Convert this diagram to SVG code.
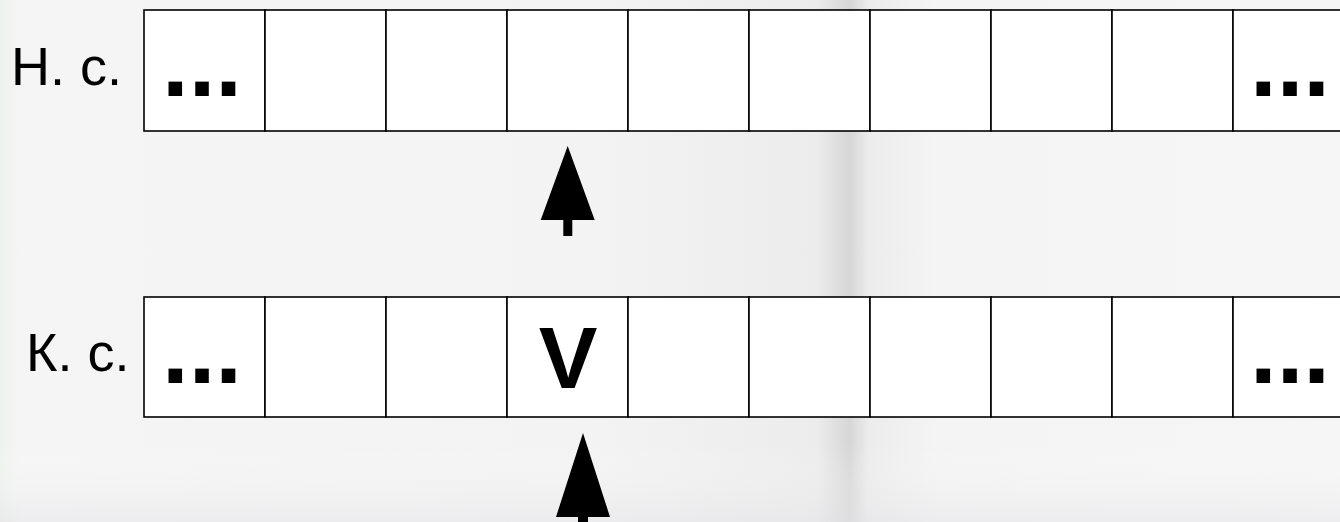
<svg xmlns="http://www.w3.org/2000/svg" width="1340" height="522" viewBox="0 0 1340 522">
  <defs>
    <linearGradient id="bg" x1="0" y1="0" x2="1340" y2="0" gradientUnits="userSpaceOnUse">
      <stop offset="0" stop-color="#eef2ee"/>
      <stop offset="0.015" stop-color="#f5f5f5"/>
      <stop offset="0.45" stop-color="#f3f3f3"/>
      <stop offset="0.61" stop-color="#ececec"/>
      <stop offset="0.634" stop-color="#d6d6d6"/>
      <stop offset="0.648" stop-color="#ececec"/>
      <stop offset="0.7" stop-color="#f4f4f4"/>
      <stop offset="1" stop-color="#f6f6f6"/>
    </linearGradient>
    <linearGradient id="bgv" x1="0" y1="0" x2="0" y2="522" gradientUnits="userSpaceOnUse">
      <stop offset="0.85" stop-color="#ffffff" stop-opacity="0"/>
      <stop offset="1" stop-color="#e4e2e6" stop-opacity="0.5"/>
    </linearGradient>
    <style>
      .cell { fill: #ffffff; stroke: #000000; stroke-width: 1.6; }
      .lbl { font-family: "Liberation Sans", Arial, sans-serif; font-size: 54px; fill: #000000; }
      .dots { font-family: "Liberation Sans", Arial, sans-serif; font-size: 96px; font-weight: bold; fill: #000000; }
      .big { font-family: "Liberation Sans", Arial, sans-serif; font-size: 88px; font-weight: bold; fill: #000000; }
      .arrow { fill: #000000; }
    </style>
  </defs>
  <rect x="0" y="0" width="1340" height="522" fill="url(#bg)"/>
  <rect x="0" y="0" width="1340" height="522" fill="url(#bgv)"/>

  <g id="row-top">
    <text class="lbl" x="11" y="85">Н. с.</text>
    <rect class="cell" x="144" y="10" width="121" height="121"/>
    <rect class="cell" x="265" y="10" width="121" height="121"/>
    <rect class="cell" x="386" y="10" width="121" height="121"/>
    <rect class="cell" x="507" y="10" width="121" height="121"/>
    <rect class="cell" x="628" y="10" width="121" height="121"/>
    <rect class="cell" x="749" y="10" width="121" height="121"/>
    <rect class="cell" x="870" y="10" width="121" height="121"/>
    <rect class="cell" x="991" y="10" width="121" height="121"/>
    <rect class="cell" x="1112" y="10" width="121" height="121"/>
    <rect class="cell" x="1233" y="10" width="121" height="121"/>
    <text class="dots" x="162" y="96">...</text>
    <text class="dots" x="1250" y="96">...</text>
  </g>

  <g id="row-bottom">
    <text class="lbl" x="26" y="371">К. с.</text>
    <rect class="cell" x="144" y="297" width="121" height="120"/>
    <rect class="cell" x="265" y="297" width="121" height="120"/>
    <rect class="cell" x="386" y="297" width="121" height="120"/>
    <rect class="cell" x="507" y="297" width="121" height="120"/>
    <rect class="cell" x="628" y="297" width="121" height="120"/>
    <rect class="cell" x="749" y="297" width="121" height="120"/>
    <rect class="cell" x="870" y="297" width="121" height="120"/>
    <rect class="cell" x="991" y="297" width="121" height="120"/>
    <rect class="cell" x="1112" y="297" width="121" height="120"/>
    <rect class="cell" x="1233" y="297" width="121" height="120"/>
    <text class="dots" x="162" y="383">...</text>
    <text class="dots" x="1250" y="383">...</text>
    <text class="big" x="568" y="388" text-anchor="middle">V</text>
  </g>

  <g id="connectors">
    <path class="arrow" d="M567.7,146 L594.7,220 L572.3,220 L572.3,236 L563.3,236 L563.3,220 L540.7,220 Z"/>
    <path class="arrow" d="M583,433 L610,517 L588,517 L588,530 L578,530 L578,517 L556,517 Z"/>
  </g>
</svg>
